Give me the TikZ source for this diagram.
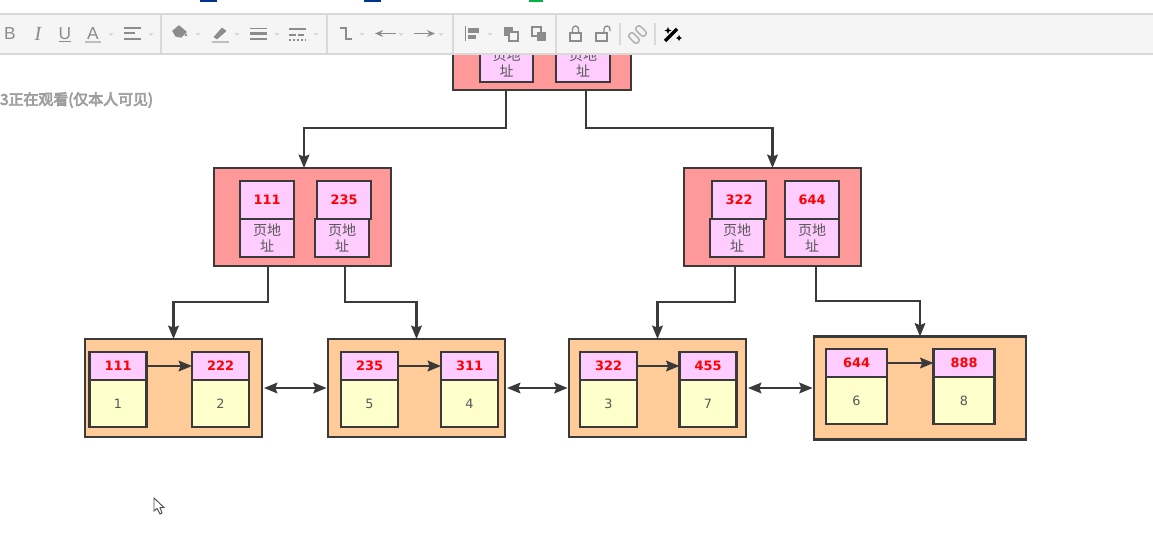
\documentclass[tikz,border=0pt]{standalone}
\usepackage{fontspec}
\setmainfont{DejaVu Sans}
\newfontfamily\cjk{Noto Sans CJK SC}
\newfontfamily\toolfont{Liberation Sans}
\newfontfamily\toolserif{Liberation Serif}
\usepackage{xcolor}
\usetikzlibrary{arrows.meta}

\definecolor{linegray}{HTML}{3A3A3A}
\definecolor{toolgray}{HTML}{8C8C8C}
\definecolor{barback}{HTML}{F5F5F5}
\definecolor{barline}{HTML}{D9D9D9}
\definecolor{pagered}{HTML}{FF9999}
\definecolor{leaforange}{HTML}{FFCC99}
\definecolor{keypink}{HTML}{FFCCFF}
\definecolor{valyellow}{HTML}{FFFFCC}
\def\u{0.75pt}

\tikzset{
  outerbox/.style={draw=linegray, line width=1.9pt, outer sep=0pt, inner sep=0pt},
  pagebox/.style={outerbox, fill=pagered},
  leafbox/.style={outerbox, fill=leaforange},
  keybox/.style={outerbox, line width=1.8pt, fill=keypink, text=red,
    font=\fontsize{9.7}{12}\selectfont\bfseries},
  addrbox/.style={outerbox, line width=1.8pt, fill=keypink, text=linegray!85, align=center,
    font=\cjk\fontsize{10.5}{11.5}\selectfont},
  valbox/.style={outerbox, line width=1.8pt, fill=valyellow, text=linegray!85,
    font=\fontsize{9.6}{12}\selectfont},
  link/.style={draw=linegray, line width=1.8pt, -{Stealth[length=10pt,width=8pt,inset=1.5pt]}},
  twoway/.style={draw=linegray, line width=1.8pt,
    {Stealth[length=10pt,width=8pt,inset=1.5pt]}-{Stealth[length=10pt,width=8pt,inset=1.5pt]},
    shorten <=1.5pt, shorten >=1pt},
  tool/.style={draw=toolgray, line width=1pt},
  toolfill/.style={fill=toolgray, draw=none},
  toolsep/.style={draw=barline, line width=0.8pt},
  toolletter/.style={text=toolgray, inner sep=0pt, font=\toolfont\fontsize{13}{13}\selectfont},
  menutip/.style={fill=barline, draw=none}
}

\begin{document}
\begin{tikzpicture}[x=0.75pt, y=-0.75pt]
\useasboundingbox (0,0) rectangle (1153,540);

%%% --- Root Page --- %%%
\node[pagebox, minimum width=178*\u, minimum height=60*\u] (root) at (542,60) {};
\node[addrbox, minimum width=53*\u, minimum height=38*\u] (rootaddr1) at (506.5,63) {页地\\址};
\node[addrbox, minimum width=54*\u, minimum height=38*\u] (rootaddr2) at (583,63) {页地\\址};

%%% --- Middle Pages --- %%%
\node[pagebox, minimum width=177*\u, minimum height=98*\u] (midl) at (302.5,217) {};
\node[pagebox, minimum width=177*\u, minimum height=98*\u] (midr) at (772.5,217) {};

\foreach \name/\keyx/\addrx/\txt in {midla/267/267/111, midlb/344/342/235, midra/739/737/322, midrb/812/812/644}{
  \node[keybox, minimum width=54*\u, minimum height=38*\u] (\name key) at (\keyx,200) {\raisebox{-0.9pt}{\txt}};
  \node[addrbox, minimum width=54*\u, minimum height=38*\u] (\name addr) at (\addrx,238) {页地\\址};
}

%%% --- Leaf Pages --- %%%
\node[leafbox, minimum width=177*\u, minimum height=98*\u] (leaf1) at (173.5,388) {};
\node[leafbox, minimum width=177*\u, minimum height=98*\u] (leaf2) at (416.5,388) {};
\node[leafbox, minimum width=177*\u, minimum height=98*\u] (leaf3) at (657.5,388) {};
\node[leafbox, minimum width=212*\u, minimum height=103*\u] (leaf4) at (920,388) {};

\foreach \name/\x/\txt/\val in {a/118/111/1, b/220.5/222/2, c/369.5/235/5, d/469.5/311/4, e/608.5/322/3, f/708/455/7}{
  \node[keybox, minimum width=57*\u, minimum height=28*\u] (\name key) at (\x,366) {\raisebox{-0.7pt}{\txt}};
  \node[valbox, minimum width=57*\u, minimum height=47*\u] (\name val) at (\x,403.5) {\val};
}
\foreach \name/\x/\txt/\val in {g/856.5/644/6, h/964/888/8}{
  \node[keybox, minimum width=61*\u, minimum height=28*\u] (\name key) at (\x,363) {\raisebox{-0.7pt}{\txt}};
  \node[valbox, minimum width=61*\u, minimum height=47*\u] (\name val) at (\x,400.5) {\val};
}

%%% --- Tree Links --- %%%
\draw[link] ([xshift=-36*\u]root.south) -- ++(0,38) -| ([xshift=1.5*\u]midl.north);
\draw[link] ([xshift=44*\u]root.south) -- ++(0,38) -| (midr.north);
\draw[link] ([xshift=-34.5*\u]midl.south) -- ++(0,36) -| (leaf1.north);
\draw[link] ([xshift=42.5*\u]midl.south) -- ++(0,36) -| (leaf2.north);
\draw[link] ([xshift=-37.5*\u]midr.south) -- ++(0,36) -| (leaf3.north);
\draw[link] ([xshift=43.5*\u]midr.south) -- ++(0,35) -| (leaf4.north);

%%% --- Sibling Links --- %%%
\foreach \from/\to in {a/b, c/d, e/f, g/h}
  \draw[link] (\from key.east) -- (\to key.west);
\foreach \from/\to in {leaf1/leaf2, leaf2/leaf3, leaf3/leaf4}
  \draw[twoway] (\from.east) -- (\to.west);

%%% --- Toolbar --- %%%
\fill[barback] (0,14) rectangle (1153,54);
\draw[barline, line width=2pt] (0,14) -- (1153,14);
\draw[barline, line width=1.2pt] (0,54) -- (1153,54);
\fill[blue!45!black!80!cyan] (200,0) rectangle (217,2);
\fill[blue!45!black!80!cyan] (364,0) rectangle (381,2);
\fill[green!60!cyan!70!black] (529,0) rectangle (543,2);

\foreach \x in {161,327,453,556}
  \draw[toolsep] (\x,15) -- (\x,53);
\foreach \x in {620,655}
  \draw[toolsep] (\x,23) -- (\x,45);

% letters and align
\node[toolletter] (boldtool) at (10,34) {B};
\node[toolletter, font=\toolserif\fontsize{15}{15}\selectfont\itshape] (italictool) at (38,34) {I};
\node[toolletter] (underlinetool) at (65,33.5) {U};
\node[toolletter] (colortool) at (93,33.5) {A};
\draw[tool] (59,41.5) -- (71,41.5);
\draw[tool, line width=1.3pt, barline!70!gray] (85,42) -- (101,42);
\foreach \y/\w in {28/17,33/11,39/17}
  \draw[tool] (124,\y) -- ++(\w,0);

% menu tips
\foreach \x in {111,151,198,237,277,316,362,401,441,490}
  \fill[menutip] (\x-2.5,33) -- (\x+2.5,33) -- (\x,36) -- cycle;

% fill, pen, line width, dash
\filldraw[tool, fill=toolgray] (173,31) -- (179,26) -- (186,32) -- (181,37) -- (176,36) -- cycle;
\fill[toolgray] (186,35) circle (1.3);
\filldraw[toolgray] (214,37) -- (222,28) -- (226,31) -- (217,39) -- cycle;
\draw[tool, barline!70!gray, line width=1.3pt] (212,42) -- (229,42);
\draw[tool, line width=1.2pt] (250,28.5) -- (267,28.5);
\draw[tool, line width=1.6pt] (250,33.5) -- (267,33.5);
\draw[tool, line width=1.2pt] (250,39) -- (267,39);
\draw[tool] (289,29) -- (306,29);
\draw[tool, dash pattern=on 5pt off 1.5pt] (289,35) -- (306,35);
\draw[tool, dash pattern=on 1.5pt off 1.5pt] (289,40) -- (306,40);

% connector and arrows
\draw[tool, line width=1.2pt] (340,28) -- (346,28) -- (346,39) -- (352,39);
\draw[tool, line width=1.2pt, {Stealth[length=6pt,width=5pt]}-] (375,33.5) -- (396,33.5);
\draw[tool, line width=1.2pt, -{Stealth[length=6pt,width=5pt]}] (414,33.5) -- (435,33.5);

% align and layers
\draw[tool] (465.5,26) -- (465.5,41);
\fill[toolfill] (468,28) rectangle (479,32.5);
\fill[toolfill] (468,35) rectangle (476,39);
\fill[toolfill] (504,27) rectangle (513,36);
\filldraw[tool, fill=barback] (509,32) rectangle (518,41);
\filldraw[tool, fill=barback] (532,27) rectangle (541,36);
\fill[toolfill] (537,32) rectangle (546,41);

% locks
\draw[tool] (570,33) rectangle (581,41);
\draw[tool] (572.5,33) -- (572.5,29) arc (180:360:3) -- (578.5,33);
\draw[tool] (596,33) rectangle (607,41);
\draw[tool] (604,33) -- (604,29) arc (180:360:3) -- (610,31);

% link and wand
\draw[tool, barline!60!gray, line width=1.2pt, rounded corners=2pt, rotate around={-45:(634,38)}] (628,35) rectangle (640,41);
\draw[tool, barline!60!gray, line width=1.2pt, rounded corners=2pt, rotate around={-45:(641,31)}] (635,28) rectangle (647,34);
\draw[black, line width=2.4pt] (665,41) -- (677,29);
\fill[black] (668,27) -- (669,29.5) -- (671.5,30.5) -- (669,31.5) -- (668,34) -- (667,31.5) -- (664.5,30.5) -- (667,29.5) -- cycle;
\fill[black] (679,35) -- (680,37) -- (682,38) -- (680,39) -- (679,41) -- (678,39) -- (676,38) -- (678,37) -- cycle;

%%% --- Viewer Note and Pointer --- %%%
\node[anchor=west, inner sep=0pt, font=\cjk\fontsize{11.2}{12}\selectfont, text=gray!70] (viewnote) at (0,100) {\special{pdf:code q 2 Tr 0.5 w 0.62 0.62 0.62 RG}3正在观看(仅本人可见)\special{pdf:code Q}};
\filldraw[draw=black!70, fill=white, line width=0.7pt] (154,498) -- (154,511) -- (157,508.5) -- (160,514) -- (162,513) -- (160,507.5) -- (164,507.5) -- cycle;

\end{tikzpicture}
\end{document}
